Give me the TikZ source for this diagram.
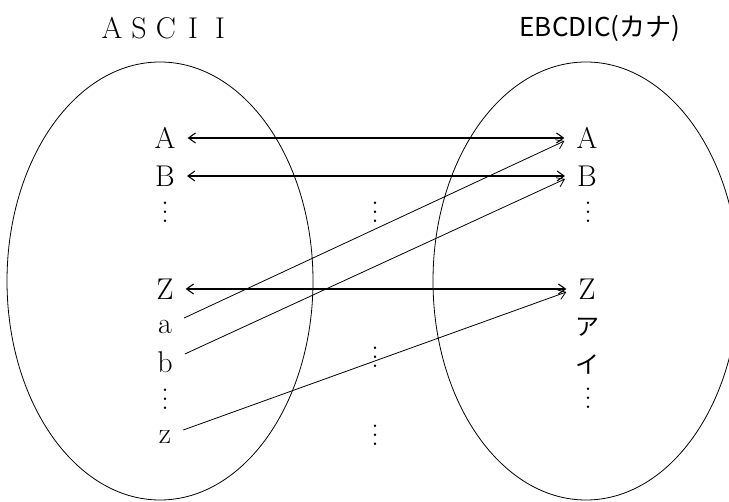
\documentclass[tikz,border=0pt]{standalone}
\usepackage{fontspec}
\newfontfamily\jpfont{Noto Sans CJK JP}
\usetikzlibrary{arrows.meta}
\newcommand{\dotcol}{\vbox{\baselineskip=9pt\lineskiplimit=-20pt\hbox{.}\hbox{.}\hbox{.}}}

\begin{document}
\begin{tikzpicture}[x=1pt,y=-1pt,
  chr/.style={font=\fontsize{30}{32}\selectfont,inner xsep=12pt,inner ysep=1pt},
  vd/.style={font=\fontsize{30}{32}\selectfont,inner sep=0pt},
  ttl/.style={font=\fontsize{30}{32}\selectfont,inner sep=0pt},
  both/.style={line width=1.1pt,{Straight Barb[length=7pt,width=10pt]}-{Straight Barb[length=7pt,width=10pt]}},
  oneway/.style={line width=0.8pt,-{Straight Barb[length=7pt,width=10pt]}}]
\useasboundingbox (0,0) rectangle (729,502);
% titles
\node[ttl] (ttlascii) at (166,28) {\makebox[27pt]{A}\makebox[27pt]{S}\makebox[27pt]{C}\makebox[27pt]{I}\makebox[27pt]{I}};
\node[ttl] (ttlebc) at (600,28) {\jpfont\fontsize{26}{28}\selectfont EBCDIC(カナ)};
% the two sets
\draw[line width=0.8pt] (160,281) ellipse [x radius=153, y radius=219];
\draw[line width=0.8pt] (586,281) ellipse [x radius=153, y radius=219];
% left column
\node[chr] (asA) at (165,138) {A};
\node[chr] (asB) at (165,176) {B};
\node[vd] (asd1) at (165,212) {\dotcol};
\node[chr] (asZ) at (165,289) {Z};
\node[chr] (asa) at (165,327) {a};
\node[chr] (asb) at (165,362) {b};
\node[vd] (asd2) at (165,399) {\dotcol};
\node[chr] (asz) at (165,437) {z};
% right column
\node[chr] (ebA) at (587,138) {A};
\node[chr] (ebB) at (587,176) {B};
\node[vd] (ebd1) at (588,212) {\dotcol};
\node[chr] (ebZ) at (587,289) {Z};
\node[chr] (ebKa) at (587,327) {\jpfont\fontsize{24}{26}\selectfont ア};
\node[chr] (ebKi) at (587,364) {\jpfont\fontsize{24}{26}\selectfont イ};
\node[vd] (ebd2) at (588,398) {\dotcol};
% dots in between
\node[vd] (md1) at (375,212) {\dotcol};
\node[vd] (md2) at (375,357) {\dotcol};
\node[vd] (md3) at (375,435) {\dotcol};
% mappings
\draw[both] (asA) -- (ebA);
\draw[both] (asB) -- (ebB);
\draw[both] (asZ) -- (ebZ);
\draw[oneway] ([yshift=9pt]asa.east) -- ([yshift=-3pt]ebA.west);
\draw[oneway] ([yshift=8pt]asb.east) -- ([yshift=-3pt]ebB.west);
\draw[oneway] ([yshift=7pt]asz.east) -- ([yshift=-3pt]ebZ.west);
\end{tikzpicture}
\end{document}
